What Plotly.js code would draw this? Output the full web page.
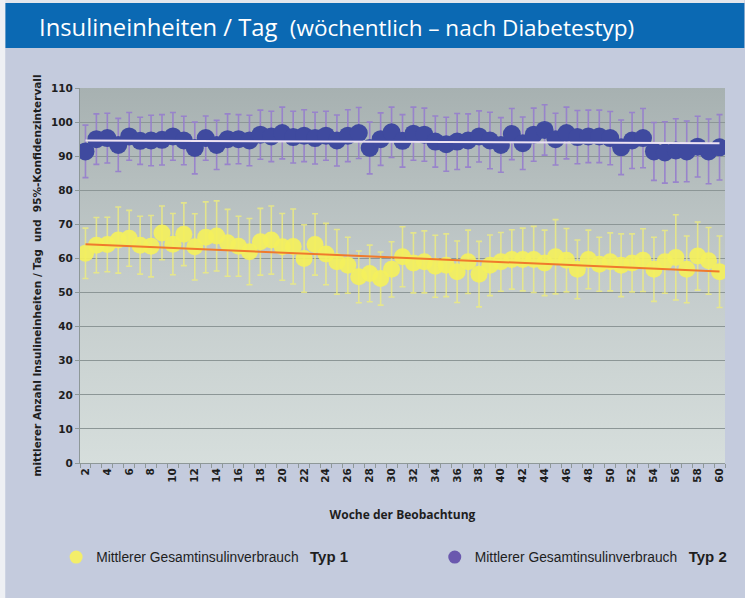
<!DOCTYPE html>
<html>
<head>
<meta charset="utf-8">
<script src="https://cdn.plot.ly/plotly-3.0.1.min.js"></script>
<style>html,body{margin:0;padding:0;background:#c4cbdd;}</style>
</head>
<body>
<div id="chart" style="width:745px;height:598px;"></div>
<script>
// Weeks of observation (category axis)
const weeks = [2,3,4,5,6,7,8,9,10,11,12,13,14,15,16,17,18,19,20,21,22,23,24,25,26,27,28,29,30,31,32,33,34,35,36,37,38,39,40,41,42,43,44,45,46,47,48,49,50,51,52,53,54,55,56,57,58,59,60];

// Typ 1: mean total insulin units/day and 95% CI half-width
const typ1Mean = [61.5,63.9,64.1,65.4,65.9,63.9,63.6,67.5,64.2,67.1,63.4,66.2,66.6,64.6,63.6,62.0,64.9,65.4,63.4,63.5,
                  60.0,64.1,61.3,59.0,58.0,54.6,55.6,54.1,56.8,60.5,58.7,59.0,57.7,58.0,56.1,59.0,55.4,58.0,59.0,59.7,
                  59.7,59.7,58.7,60.5,59.5,56.8,59.7,58.3,59.0,58.0,58.7,59.5,56.8,59.0,60.3,56.8,60.7,59.3,56.1];
const typ1CI   = [7.4,8.1,8.0,9.7,8.2,8.5,9.0,7.9,9.0,9.2,9.7,10.4,10.3,9.8,8.8,9.7,9.8,10.0,9.8,11.0,
                  9.9,9.0,9.0,9.5,8.2,7.6,8.3,7.8,8.1,8.8,8.8,9.1,9.1,9.2,9.0,9.3,9.6,8.9,8.6,8.7,
                  9.2,9.7,9.6,10.9,9.3,8.6,8.6,7.9,8.5,9.2,8.5,9.2,9.4,9.2,12.5,9.8,10.0,9.8,10.5];

// Typ 2: mean total insulin units/day and 95% CI half-width
const typ2Mean = [91.4,95.0,95.3,93.3,95.8,94.5,94.6,94.8,95.8,94.6,92.4,95.3,93.3,95.0,95.0,94.6,96.3,95.8,96.8,95.6,
                  96.0,95.3,96.0,94.6,96.0,96.8,92.4,95.0,97.0,94.5,96.6,96.3,94.3,93.5,94.3,94.6,95.8,94.6,93.3,96.5,
                  93.8,96.3,97.7,95.0,96.8,95.6,95.8,95.8,95.3,92.6,94.6,95.3,91.4,91.1,91.7,91.4,92.8,91.4,92.6];
const typ2CI   = [7.7,7.4,7.3,7.8,7.0,6.9,7.4,7.4,7.0,7.1,7.6,6.5,7.2,7.4,7.2,7.4,7.2,7.4,7.6,7.6,
                  7.6,7.6,7.2,7.5,7.6,7.5,7.6,7.7,7.4,7.7,7.8,7.8,7.5,7.9,8.2,7.8,7.5,8.3,8.0,7.5,
                  7.7,7.8,7.4,7.6,7.6,7.8,7.7,7.7,7.8,8.0,8.2,8.7,8.5,9.0,9.3,8.9,8.9,9.5,9.6];

// Linear trend lines (endpoints)
const trendWeeks = [2, 60];
const typ1Trend = [64.2, 56.2];
const typ2Trend = [94.6, 93.8];

// Axis ticks
const xTickVals = [2,4,6,8,10,12,14,16,18,20,22,24,26,28,30,32,34,36,38,40,42,44,46,48,50,52,54,56,58,60];
const xTickText = xTickVals.map(String);
const yTickVals = [0,10,20,30,40,50,60,70,80,90,100,110];

const legendNames = ['Mittlerer Gesamtinsulinverbrauch\u00a0\u00a0\u00a0<b style="font-size:15px">Typ 1</b>',
                     'Mittlerer Gesamtinsulinverbrauch\u00a0\u00a0\u00a0<b style="font-size:15px">Typ 2</b>'];

const tickFont = {family: 'DejaVu Sans, Verdana, sans-serif', size: 10.5, color: '#1e1e1e', weight: 'bold'};
const legendFont = {family: 'Liberation Sans, Arial, sans-serif', size: 13.8, color: '#1e1e1e'};

const traces = [
  {
    x: weeks, y: typ1Mean, type: 'scatter', mode: 'markers', showlegend: false,
    marker: {size: 17, color: 'rgba(244,240,92,0.92)'},
    error_y: {type: 'data', array: typ1CI, visible: true, color: 'rgba(238,236,125,0.8)', thickness: 1.6, width: 3}
  },
  {
    x: weeks, y: typ2Mean, type: 'scatter', mode: 'markers', showlegend: false,
    marker: {size: 18, color: '#3f4a9f'},
    error_y: {type: 'data', array: typ2CI, visible: true, color: 'rgba(150,125,205,0.9)', thickness: 1.6, width: 3}
  },
  {
    x: trendWeeks, y: typ1Trend, type: 'scatter', mode: 'lines', showlegend: false,
    line: {color: '#f07a2c', width: 2}
  },
  {
    x: trendWeeks, y: typ2Trend, type: 'scatter', mode: 'lines', showlegend: false,
    line: {color: '#ece2f2', width: 2}
  },
  {
    x: [null], y: [null], type: 'scatter', mode: 'markers', name: legendNames[0], showlegend: true,
    legend: 'legend', marker: {size: 13, color: '#f3ee6a'}
  },
  {
    x: [null], y: [null], type: 'scatter', mode: 'markers', name: legendNames[1], showlegend: true,
    legend: 'legend2', marker: {size: 13, color: '#6a58ae'}
  }
];

const gradSvg = "<svg xmlns='http://www.w3.org/2000/svg' width='100' height='100' preserveAspectRatio='none'>" +
  "<defs><linearGradient id='g' x1='0' y1='0' x2='0' y2='1'>" +
  "<stop offset='0' stop-color='#a7b1b1'/><stop offset='0.5' stop-color='#c3cbcb'/><stop offset='1' stop-color='#d6dedc'/>" +
  "</linearGradient></defs><rect width='100' height='100' fill='url(#g)'/></svg>";
const gradUri = 'data:image/svg+xml;charset=utf-8,' + encodeURIComponent(gradSvg);

const layout = {
  width: 745, height: 598,
  margin: {l: 80, r: 17, t: 88, b: 135},
  paper_bgcolor: '#c4cbdd',
  plot_bgcolor: 'rgba(0,0,0,0)',
  font: {family: 'DejaVu Sans, sans-serif', color: '#1e1e1e'},
  images: [{
    source: gradUri, xref: 'paper', yref: 'paper', x: 0, y: 1, sizex: 1, sizey: 1,
    xanchor: 'left', yanchor: 'top', sizing: 'stretch', layer: 'below'
  }],
  shapes: [
    {type: 'rect', xref: 'paper', yref: 'paper', x0: -0.1159, x1: 1.03, y0: 1.1067, y1: 1.2267,
     fillcolor: '#0b69b3', line: {width: 0}, layer: 'below'},
    {type: 'rect', xref: 'paper', yref: 'paper', x0: -0.13, x1: 1.03, y0: 1.2267, y1: 1.24,
     fillcolor: '#e3e6ec', line: {width: 0}, layer: 'below'},
    {type: 'rect', xref: 'paper', yref: 'paper', x0: -0.13, x1: -0.1159, y0: -0.37, y1: 1.24,
     fillcolor: '#eef0f4', line: {width: 0}, layer: 'below'}
  ],
  annotations: [{
    text: 'Insulineinheiten / Tag\u00a0\u00a0<span style="font-size:22.5px">(wöchentlich – nach Diabetestyp)</span>',
    xref: 'paper', yref: 'paper', x: -0.0665, y: 1.163, xanchor: 'left', yanchor: 'middle',
    showarrow: false, font: {family: 'Open Sans, sans-serif', size: 23.8, color: '#ffffff'}
  }],
  xaxis: {
    range: [1.5, 60.5], tickvals: xTickVals, ticktext: xTickText, tickangle: -90,
    showgrid: false, zeroline: false, showline: true, linecolor: '#8e9898', linewidth: 1,
    ticks: 'outside', ticklen: 0, tickcolor: '#8e9898',
    minor: {tick0: 1.5, dtick: 1, ticks: 'outside', ticklen: 4, tickcolor: '#8e9898', showgrid: false},
    tickfont: tickFont,
    title: {text: 'Woche der Beobachtung', standoff: 28,
            font: {family: 'Open Sans, sans-serif', size: 12, color: '#1e1e1e', weight: 'bold'}}
  },
  yaxis: {
    range: [0, 110], tickvals: yTickVals, showgrid: true, gridcolor: '#8c9696', gridwidth: 1,
    zeroline: false, showline: true, linecolor: '#8e9898', linewidth: 1,
    ticks: 'outside', ticklen: 4, tickcolor: '#8e9898',
    tickfont: tickFont,
    title: {text: 'mittlerer Anzahl Insulineinheiten / Tag\u00a0\u00a0und\u00a0\u00a095%-Konfidenzintervall', standoff: 7,
            font: {family: 'DejaVu Sans, Verdana, sans-serif', size: 10.5, color: '#1e1e1e', weight: 'bold'}}
  },
  legend: {
    orientation: 'h', x: -0.037, xanchor: 'left', y: -0.251, yanchor: 'middle',
    bgcolor: 'rgba(0,0,0,0)', font: legendFont
  },
  legend2: {
    orientation: 'h', x: 0.55, xanchor: 'left', y: -0.251, yanchor: 'middle',
    bgcolor: 'rgba(0,0,0,0)', font: legendFont
  }
};

Plotly.newPlot('chart', traces, layout, {displayModeBar: false, staticPlot: true});
</script>
</body>
</html>
